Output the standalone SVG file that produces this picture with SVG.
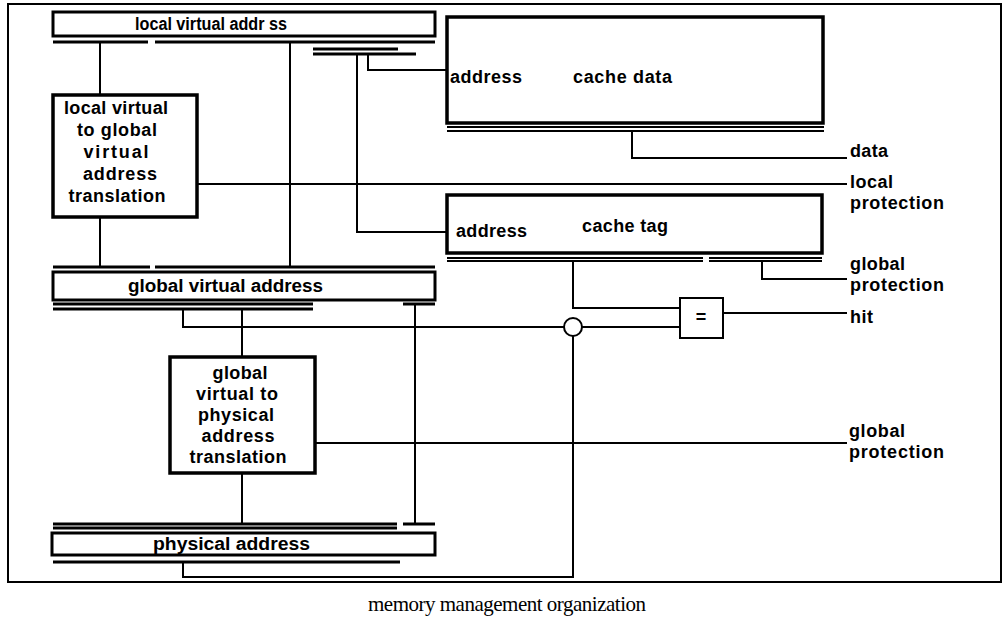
<svg xmlns="http://www.w3.org/2000/svg" width="1005" height="629" viewBox="0 0 1005 629">
<style>
.frame{fill:none;stroke:#000;stroke-width:2}
.bar{fill:#fff;stroke:#000;stroke-width:3}
.box{fill:#fff;stroke:#000;stroke-width:3.5}
.cmp{fill:#fff;stroke:#000;stroke-width:2}
.w{fill:none;stroke:#000;stroke-width:2}
.u{fill:none;stroke:#000;stroke-width:3}
.u2{fill:none;stroke:#000;stroke-width:2}
.t{font-family:"Liberation Sans",Arial,Helvetica,sans-serif;font-weight:bold;font-size:18px;fill:#000}
.m{text-anchor:middle}
.cap{font-family:"Liberation Serif","Times New Roman",serif;font-size:21px;fill:#000}
</style>
<rect x="0" y="0" width="1005" height="629" fill="#fff"/>
<rect class="frame" x="8" y="4" width="993" height="578"/>

<g id="connectors">
  <path class="u" d="M53 42H148M155 42H435M313 49H398M313 54H416"/>
  <path class="u" d="M53 267H150M155 267H435M53 304H313M403 304H435M53 309H313"/>
  <path class="u" d="M53 524H397M403 524H435M53 528H397M53 562H400"/>
  <path class="u2" d="M447 127H824M447 131H824M447 258H703M709 258H822M447 261H703M709 261H822"/>
  <path class="w" d="M100 42V95M100 217V267"/>
  <path class="w" d="M290 42V267"/>
  <path class="w" d="M357 54V232H447"/>
  <path class="w" d="M368 54V70H447"/>
  <path class="w" d="M197 184H847"/>
  <path class="w" d="M632 131V158H847"/>
  <path class="w" d="M762 261V279H847"/>
  <path class="w" d="M573 261V308H680"/>
  <path class="w" d="M723 313H847"/>
  <path class="w" d="M183 309V327H564M582 327H680"/>
  <path class="w" d="M242 309V357M242 473V524"/>
  <path class="w" d="M415 304V524"/>
  <path class="w" d="M315 443H847"/>
  <path class="w" d="M183 562V577H573V336"/>
</g>

<g id="lva-bar">
  <rect class="bar" x="53" y="12" width="382" height="24"/>
  <text class="t" x="135" y="30" textLength="152" lengthAdjust="spacingAndGlyphs">local virtual addr ss</text>
</g>

<g id="lv-to-gv">
  <rect class="box" x="53" y="95" width="144" height="122"/>
  <text class="t m" x="116" y="114" textLength="104">local virtual</text>
  <text class="t m" x="117" y="136" textLength="80">to global</text>
  <text class="t m" x="116" y="158" textLength="65">virtual</text>
  <text class="t m" x="120" y="180" textLength="74">address</text>
  <text class="t m" x="117" y="202" textLength="97">translation</text>
</g>

<g id="gva-bar">
  <rect class="bar" x="53" y="272" width="382" height="28"/>
  <text class="t" x="128" y="292" textLength="195" lengthAdjust="spacingAndGlyphs">global virtual address</text>
</g>

<g id="gv-to-p">
  <rect class="box" x="170" y="357" width="145" height="116"/>
  <text class="t m" x="240" y="379" textLength="55">global</text>
  <text class="t m" x="237" y="400" textLength="82">virtual to</text>
  <text class="t m" x="236" y="421" textLength="76">physical</text>
  <text class="t m" x="238" y="442" textLength="73">address</text>
  <text class="t m" x="238" y="463" textLength="97">translation</text>
</g>

<g id="pa-bar">
  <rect class="bar" x="52" y="533" width="383" height="22"/>
  <text class="t" x="153" y="550" textLength="157" lengthAdjust="spacingAndGlyphs">physical address</text>
</g>

<g id="cache-data">
  <rect class="box" x="447" y="17" width="376" height="106"/>
  <text class="t" x="450" y="83" textLength="72">address</text>
  <text class="t" x="573" y="83" textLength="99">cache data</text>
</g>

<g id="cache-tag">
  <rect class="box" x="447" y="195" width="375" height="58"/>
  <text class="t" x="456" y="237" textLength="71">address</text>
  <text class="t" x="582" y="232" textLength="86">cache tag</text>
</g>

<g id="junction">
  <circle cx="573" cy="327" r="9" fill="#fff" stroke="#000" stroke-width="2"/>
</g>

<g id="comparator">
  <rect class="cmp" x="680" y="298" width="43" height="40"/>
  <text class="t m" x="701" y="323" font-size="13">=</text>
</g>

<g id="outputs">
  <text class="t" x="850" y="157" textLength="38">data</text>
  <text class="t" x="850" y="188" textLength="43">local</text>
  <text class="t" x="850" y="209" textLength="94">protection</text>
  <text class="t" x="850" y="270" textLength="55">global</text>
  <text class="t" x="850" y="291" textLength="94">protection</text>
  <text class="t" x="850" y="323" textLength="23">hit</text>
  <text class="t" x="849" y="437" textLength="56">global</text>
  <text class="t" x="849" y="458" textLength="95">protection</text>
</g>

<text class="cap" x="368" y="611" textLength="278">memory management organization</text>
</svg>
